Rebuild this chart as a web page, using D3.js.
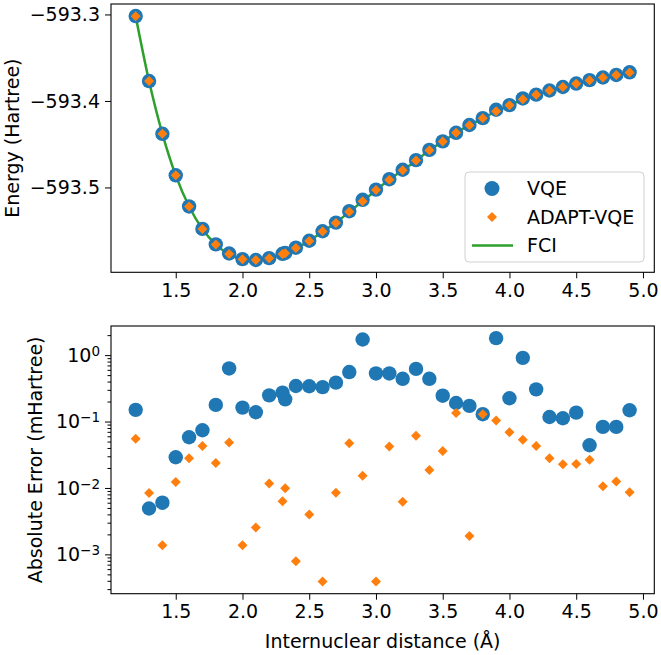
<!DOCTYPE html>
<html>
<head>
<meta charset="utf-8">
<script src="https://cdn.jsdelivr.net/npm/d3@7"></script>
<style>
  body { margin: 0; background: #fff; }
  text { font-family: "DejaVu Sans", sans-serif; fill: #000; }
</style>
</head>
<body>
<div id="chart"></div>
<script>
// Internuclear distances (Å)
const distances = [1.2, 1.3, 1.4, 1.5, 1.6, 1.7, 1.8, 1.9, 2.0, 2.1, 2.2, 2.3, 2.32,
  2.4, 2.5, 2.6, 2.7, 2.8, 2.9, 3.0, 3.1, 3.2, 3.3, 3.4, 3.5, 3.6, 3.7, 3.8, 3.9,
  4.0, 4.1, 4.2, 4.3, 4.4, 4.5, 4.6, 4.7, 4.8, 4.9];

// FCI energy (Hartree)
const energyFCI = [-593.302, -593.377, -593.438, -593.486, -593.522, -593.548, -593.566,
  -593.577, -593.583, -593.584, -593.582, -593.577, -593.576, -593.570, -593.562,
  -593.551, -593.541, -593.528, -593.516, -593.503, -593.491, -593.480, -593.469,
  -593.457, -593.447, -593.437, -593.428, -593.420, -593.412, -593.405, -593.398,
  -593.393, -593.388, -593.384, -593.380, -593.376, -593.373, -593.370, -593.367];

// absolute errors vs FCI (mHartree)
const errVQE = [0.15, 0.0049, 0.006, 0.029, 0.058, 0.074, 0.178, 0.63, 0.162, 0.138,
  0.248, 0.272, 0.216, 0.343, 0.34, 0.33, 0.385, 0.556, 1.72, 0.53, 0.53, 0.44, 0.62,
  0.44, 0.245, 0.19, 0.172, 0.129, 1.8, 0.224, 0.91, 0.305, 0.117, 0.112, 0.136,
  0.044, 0.083, 0.083, 0.148];
const errADAPT = [0.055, 0.0084, 0.00137, 0.0123, 0.028, 0.043, 0.0237, 0.0484, 0.00137,
  0.00254, 0.0117, 0.0063, 0.0099, 0.00079, 0.004, 0.00039, 0.0085, 0.047, 0.0153,
  0.00039, 0.042, 0.0062, 0.061, 0.0186, 0.036, 0.135, 0.00189, 0.129, 0.104, 0.069,
  0.053, 0.043, 0.0279, 0.0227, 0.0229, 0.0266, 0.0106, 0.0125, 0.0086];

const xTicks = [1.5, 2.0, 2.5, 3.0, 3.5, 4.0, 4.5, 5.0];
const energyTicks = [-593.5, -593.4, -593.3];
const errTicks = [1e-3, 1e-2, 1e-1, 1];
const errExponents = ["−3", "−2", "−1", "0"];

const rows = distances.map((d, i) => ({
  x: d,
  fci: energyFCI[i],
  vqe: energyFCI[i] + errVQE[i] / 1000,
  adapt: energyFCI[i] + errADAPT[i] / 1000,
  eV: errVQE[i],
  eA: errADAPT[i]
}));

const W = 661, H = 655;
const left = 111, right = 654.3;
const top1 = 4, bot1 = 272.3;
const top2 = 326, bot2 = 593.7;
const fs = 19;
const blue = "#1f77b4", orange = "#ff7f0e", green = "#2ca02c";

const svg = d3.select("#chart").append("svg")
  .attr("width", W).attr("height", H);

function pad(ext, f) {
  const p = (ext[1] - ext[0]) * f;
  return [ext[0] - p, ext[1] + p];
}

const x = d3.scaleLinear().domain(pad(d3.extent(distances), 0.05)).range([left, right]);
const y1 = d3.scaleLinear().domain(pad(d3.extent(energyFCI), 0.05)).range([bot1, top1]);
const logExt = d3.extent(errVQE.concat(errADAPT)).map(Math.log10);
const y2 = d3.scaleLog().domain(pad(logExt, 0.05).map(v => Math.pow(10, v))).range([bot2, top2]);

const diamond = d3.symbol().type(d3.symbolSquare).size(50);

function xAxis(yPos) {
  svg.append("g")
    .attr("transform", `translate(0,${yPos})`)
    .call(d3.axisBottom(x).tickValues(xTicks).tickFormat(d3.format(".1f"))
      .tickSize(6).tickPadding(5).tickSizeOuter(0))
    .call(g => g.select(".domain").remove())
    .call(g => g.selectAll("text").attr("font-size", fs).attr("font-family", "DejaVu Sans"));
}

// ---- top panel ----
const line = d3.line().x(d => x(d.x)).y(d => y1(d.fci)).curve(d3.curveMonotoneX);
svg.append("path").datum(rows)
  .attr("d", line).attr("fill", "none")
  .attr("stroke", green).attr("stroke-width", 2.5);

svg.selectAll(".vqe1").data(rows).enter().append("circle")
  .attr("cx", d => x(d.x)).attr("cy", d => y1(d.vqe)).attr("r", 7.2)
  .attr("fill", blue);

svg.selectAll(".adapt1").data(rows).enter().append("path")
  .attr("d", diamond)
  .attr("transform", d => `translate(${x(d.x)},${y1(d.adapt)}) rotate(45)`)
  .attr("fill", orange);

svg.append("g")
  .attr("transform", `translate(${left},0)`)
  .call(d3.axisLeft(y1).tickValues(energyTicks).tickFormat(d3.format(".1f"))
    .tickSize(6).tickPadding(5).tickSizeOuter(0))
  .call(g => g.select(".domain").remove())
  .call(g => g.selectAll("text").attr("font-size", fs).attr("font-family", "DejaVu Sans"));

xAxis(bot1);

svg.append("rect")
  .attr("x", left).attr("y", top1)
  .attr("width", right - left).attr("height", bot1 - top1)
  .attr("fill", "none").attr("stroke", "#000").attr("stroke-width", 1.1);

// legend
const lg = svg.append("g").attr("transform", "translate(465,172)");
lg.append("rect")
  .attr("width", 179).attr("height", 90).attr("rx", 4)
  .attr("fill", "#fff").attr("fill-opacity", 0.8)
  .attr("stroke", "#d0d0d0");
lg.append("circle").attr("cx", 27).attr("cy", 16.5).attr("r", 7.5).attr("fill", blue);
lg.append("path").attr("d", diamond)
  .attr("transform", "translate(27,45) rotate(45)").attr("fill", orange);
lg.append("line").attr("x1", 7).attr("x2", 48).attr("y1", 73.5).attr("y2", 73.5)
  .attr("stroke", green).attr("stroke-width", 2.5);
[["VQE", 16.5], ["ADAPT-VQE", 45], ["FCI", 73.5]].forEach(([t, yy]) => {
  lg.append("text").attr("x", 62).attr("y", yy).attr("dy", "0.36em")
    .attr("font-size", fs).text(t);
});

svg.append("text")
  .attr("transform", `translate(18.5,${(top1 + bot1) / 2}) rotate(-90)`)
  .attr("text-anchor", "middle").attr("font-size", fs)
  .text("Energy (Hartree)");

// ---- bottom panel ----
svg.selectAll(".vqe2").data(rows).enter().append("circle")
  .attr("cx", d => x(d.x)).attr("cy", d => y2(d.eV)).attr("r", 7.2)
  .attr("fill", blue);

svg.selectAll(".adapt2").data(rows).enter().append("path")
  .attr("d", diamond)
  .attr("transform", d => `translate(${x(d.x)},${y2(d.eA)}) rotate(45)`)
  .attr("fill", orange);

// minor log ticks
const minor = [];
for (let e = -4; e <= 0; e++) {
  for (let m = 2; m <= 9; m++) {
    const v = m * Math.pow(10, e);
    if (v >= y2.domain()[0] && v <= y2.domain()[1]) minor.push(v);
  }
}
svg.append("g")
  .attr("transform", `translate(${left},0)`)
  .call(d3.axisLeft(y2).tickValues(minor).tickFormat("").tickSize(3.5).tickSizeOuter(0))
  .call(g => g.select(".domain").remove());

svg.append("g")
  .attr("transform", `translate(${left},0)`)
  .call(d3.axisLeft(y2).tickValues(errTicks).tickFormat("")
    .tickSize(6).tickPadding(5).tickSizeOuter(0))
  .call(g => g.select(".domain").remove())
  .call(g => g.selectAll(".tick text").each(function (d, i) {
    const t = d3.select(this).attr("font-size", fs).attr("font-family", "DejaVu Sans");
    t.append("tspan").text("10");
    t.append("tspan").attr("dy", "-0.42em").attr("font-size", 13.5).text(errExponents[i]);
  }));

xAxis(bot2);

svg.append("rect")
  .attr("x", left).attr("y", top2)
  .attr("width", right - left).attr("height", bot2 - top2)
  .attr("fill", "none").attr("stroke", "#000").attr("stroke-width", 1.1);

svg.append("text")
  .attr("transform", `translate(42,${(top2 + bot2) / 2}) rotate(-90)`)
  .attr("text-anchor", "middle").attr("font-size", fs)
  .text("Absolute Error (mHartree)");

svg.append("text")
  .attr("x", (left + right) / 2).attr("y", 648)
  .attr("text-anchor", "middle").attr("font-size", fs)
  .text("Internuclear distance (Å)");
</script>
</body>
</html>
